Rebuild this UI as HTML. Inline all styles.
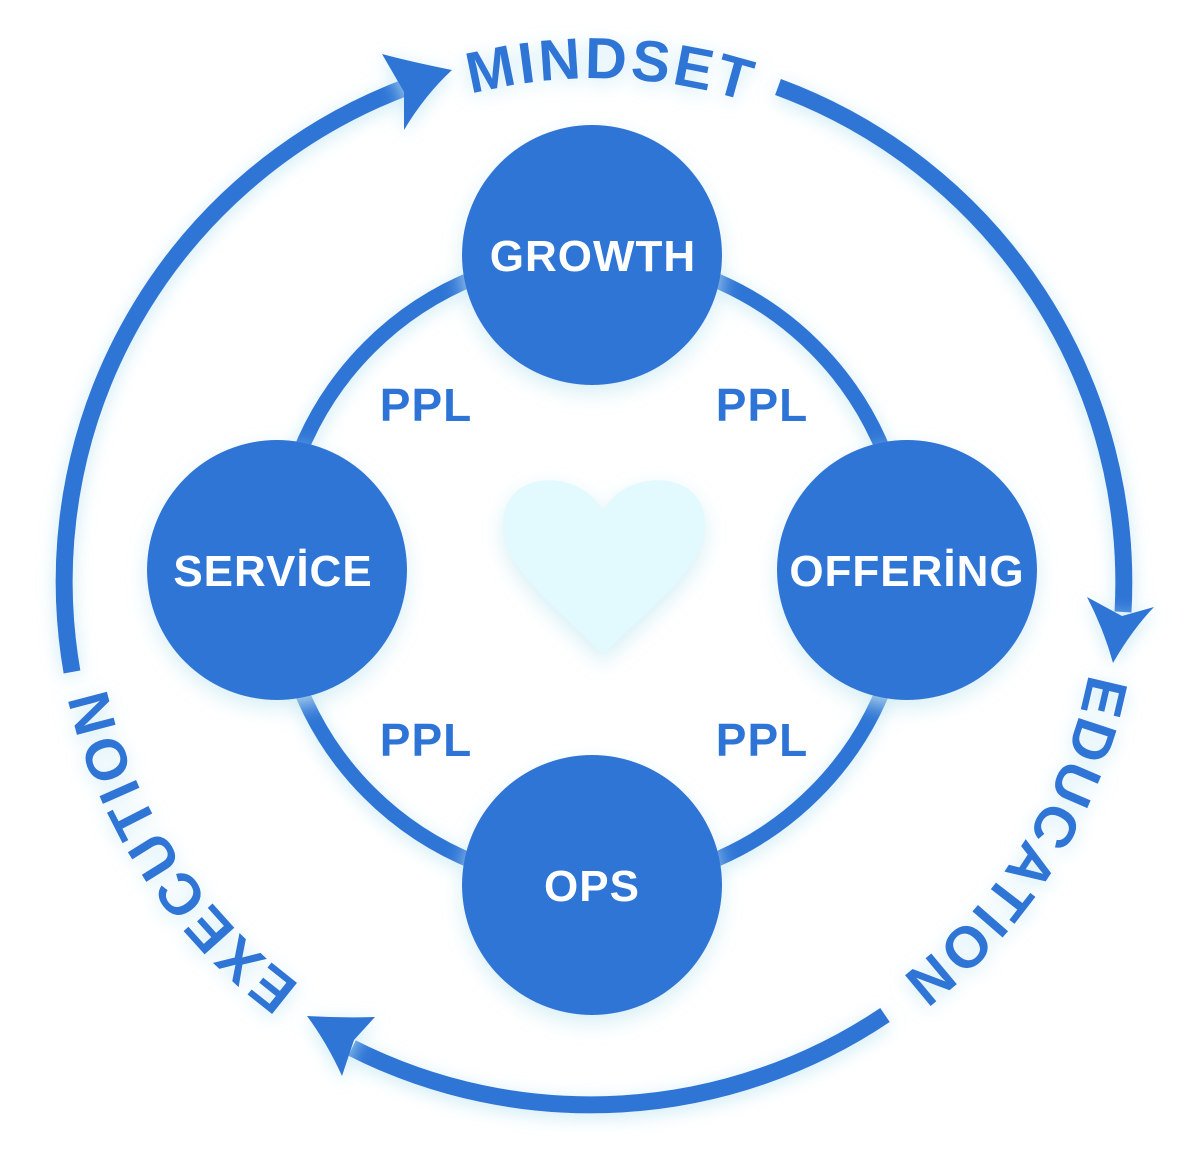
<!DOCTYPE html>
<html><head><meta charset="utf-8"><style>
html,body{margin:0;padding:0;background:#fff;}
svg{display:block;}
text{font-family:"Liberation Sans",sans-serif;font-weight:bold;}
</style></head><body>
<svg width="1200" height="1165" viewBox="0 0 1200 1165" xmlns="http://www.w3.org/2000/svg">
<defs>
<filter id="glow" x="-20%" y="-20%" width="140%" height="140%">
<feDropShadow dx="0" dy="4" stdDeviation="9" flood-color="#bfe6f3" flood-opacity="0.8"/>
</filter>
<filter id="hs" x="-30%" y="-30%" width="160%" height="160%">
<feDropShadow dx="0" dy="8" stdDeviation="10" flood-color="#cdebf3" flood-opacity="0.8"/>
</filter>
<path id="tm" d="M166,321 A502,502 0 0 1 1035,337"/>
<path id="te" d="M1043,352 A502,502 0 0 1 570,1081"/>
<path id="tx" d="M622,1081 A502,502 0 0 1 149,352"/>
</defs>

<g filter="url(#glow)" fill="none" stroke="#2e74d6" stroke-width="17">
<path d="M72,672 A528,528 0 0 1 407,87"/>
<path d="M778,87 A528,528 0 0 1 1123,612"/>
<path d="M885,1015 A528,528 0 0 1 352,1048"/>
<circle cx="592" cy="570" r="315" stroke-width="15"/>
</g>
<g fill="#2e74d6" filter="url(#glow)">
<path d="M452,70 Q412,62 382,54 L404,92 L404,130 Q425,95 452,70Z"/>
<path d="M1113,663 Q1132,630 1154,607 L1122,616 L1087,597 Q1104,630 1113,663Z"/>
<path d="M307,1016 Q342,1018 375,1017 L354,1040 L342,1076 Q327,1043 307,1016Z"/>
</g>

<g fill="#2e74d6" font-size="58" letter-spacing="3" filter="url(#glow)">
<text><textPath href="#tm" startOffset="50.5%" text-anchor="middle">MINDSET</textPath></text>
<text><textPath href="#te" startOffset="49%" text-anchor="middle">EDUCATION</textPath></text>
<text><textPath href="#tx" startOffset="50%" text-anchor="middle">EXECUTION</textPath></text>
</g>

<path d="M603,512 C585,470 503,465 503,525 C503,570 560,610 603,655 C646,610 705,570 705,525 C705,465 621,470 603,512 Z" fill="#e2f9fd" filter="url(#hs)"/>

<g fill="#2e74d6" filter="url(#hs)">
<circle cx="592" cy="255" r="130"/>
<circle cx="277" cy="570" r="130"/>
<circle cx="907" cy="570" r="130"/>
<circle cx="592" cy="885" r="130"/>
</g>
<g fill="#fff" font-size="44" text-anchor="middle" letter-spacing="1">
<text x="593" y="271">GROWTH</text>
<text x="273" y="586">SERVİCE</text>
<text x="907" y="586">OFFERİNG</text>
<text x="592" y="901">OPS</text>
</g>
<g fill="#2e74d6" font-size="46" text-anchor="middle" letter-spacing="1">
<text x="426" y="421">PPL</text>
<text x="762" y="421">PPL</text>
<text x="426" y="756">PPL</text>
<text x="762" y="756">PPL</text>
</g>
</svg>
</body></html>
